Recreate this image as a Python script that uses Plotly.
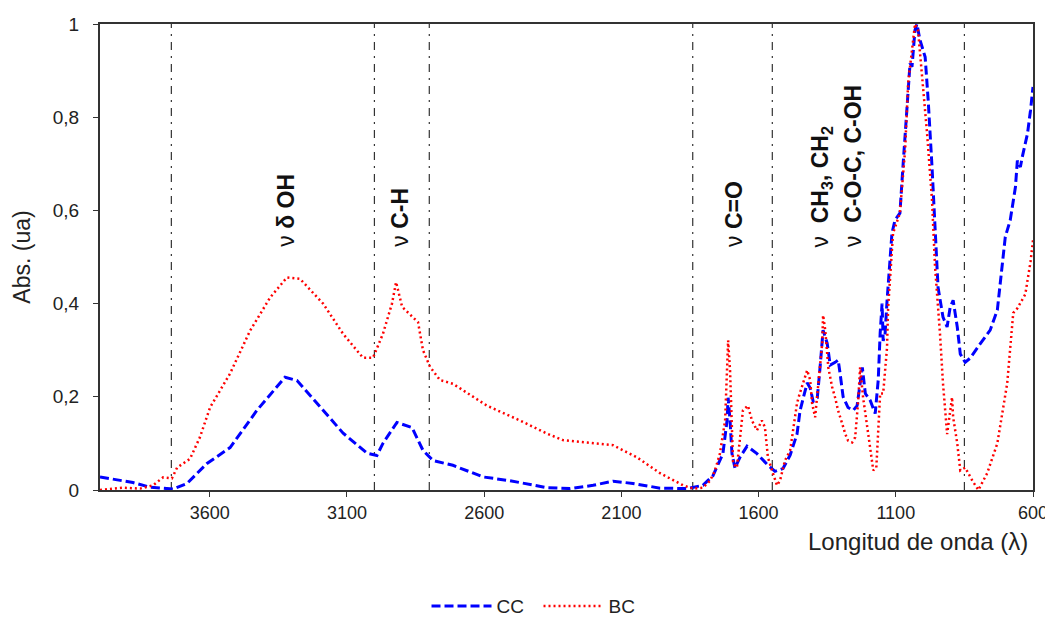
import plotly.graph_objects as go

# ---- data (wavenumber cm-1, absorbance) ----
cc_x = [4000, 3880, 3818, 3734, 3683, 3610, 3526, 3428, 3326, 3282, 3187, 3114, 3027, 2991, 2969,
        2918, 2863, 2823, 2786, 2714, 2604, 2506, 2371, 2287, 2203, 2130, 2058, 1959, 1861, 1803,
        1766, 1730, 1715, 1711, 1704, 1697, 1686, 1668, 1642, 1606, 1569, 1540, 1511, 1485, 1460,
        1449, 1423, 1412, 1401, 1386, 1376, 1365, 1350, 1339, 1321, 1310, 1303, 1292, 1274, 1255,
        1241, 1230, 1222, 1211, 1193, 1175, 1164, 1157, 1150, 1146, 1139, 1132, 1114, 1103, 1085,
        1074, 1059, 1048, 1041, 1030, 1023, 1012, 993, 982, 968, 957, 946, 928, 913, 902,
        891, 876, 865, 847, 829, 792, 756, 730, 712, 701, 683, 664, 657, 646, 639,
        620, 609, 600]
cc_y = [0.028, 0.016, 0.006, 0.002, 0.014, 0.057, 0.091, 0.171, 0.242, 0.235, 0.171, 0.122, 0.079, 0.074, 0.1,
        0.145, 0.134, 0.085, 0.063, 0.053, 0.028, 0.02, 0.005, 0.003, 0.01, 0.019, 0.014, 0.004, 0.003, 0.01,
        0.031, 0.078, 0.149, 0.198, 0.149, 0.078, 0.047, 0.07, 0.094, 0.078, 0.055, 0.04, 0.046, 0.075, 0.12,
        0.17, 0.23, 0.219, 0.19, 0.198, 0.263, 0.343, 0.315, 0.268, 0.274, 0.279, 0.25, 0.2, 0.177, 0.171,
        0.181, 0.229, 0.263, 0.207, 0.192, 0.164, 0.236, 0.336, 0.4, 0.32, 0.335, 0.405, 0.551, 0.579, 0.594,
        0.693, 0.837, 0.916, 0.908, 0.987, 1.0, 0.966, 0.929, 0.837, 0.693, 0.551, 0.435, 0.371, 0.35, 0.392,
        0.407, 0.35, 0.292, 0.274, 0.283, 0.314, 0.343, 0.386, 0.478, 0.543, 0.579, 0.65, 0.707, 0.693, 0.715,
        0.765, 0.815, 0.865]

bc_x = [4000, 3916, 3854, 3807, 3770, 3738, 3719, 3672, 3636, 3599, 3526, 3453, 3380, 3319, 3271,
        3187, 3114, 3042, 3005, 2969, 2936, 2921, 2899, 2859, 2841, 2823, 2797, 2761, 2714, 2590,
        2469, 2371, 2313, 2225, 2130, 2043, 1959, 1875, 1839, 1803, 1777, 1760, 1741, 1722, 1715,
        1711, 1704, 1697, 1693, 1679, 1668, 1657, 1639, 1624, 1606, 1588, 1577, 1566, 1551, 1533,
        1522, 1504, 1485, 1460, 1452, 1423, 1412, 1405, 1394, 1383, 1368, 1365, 1357, 1346, 1332,
        1321, 1310, 1295, 1284, 1274, 1259, 1248, 1237, 1230, 1219, 1204, 1193, 1182, 1171, 1164,
        1157, 1146, 1139, 1132, 1128, 1110, 1085, 1066, 1055, 1041, 1030, 1019, 1005, 986, 968,
        957, 939, 928, 913, 910, 895, 891, 876, 865, 847, 821, 799, 767, 730, 694,
        672, 657, 628, 609, 600]
bc_y = [0.0, 0.005, 0.003, 0.01, 0.027, 0.025, 0.048, 0.067, 0.113, 0.177, 0.25, 0.342, 0.413, 0.456, 0.453,
        0.4, 0.335, 0.284, 0.284, 0.335, 0.4, 0.446, 0.393, 0.369, 0.36, 0.3, 0.264, 0.236, 0.228, 0.181,
        0.149, 0.121, 0.107, 0.102, 0.096, 0.07, 0.036, 0.01, 0.003, 0.005, 0.02, 0.04, 0.078, 0.149, 0.256,
        0.321, 0.256, 0.149, 0.057, 0.048, 0.113, 0.171, 0.181, 0.149, 0.128, 0.149, 0.135, 0.07, 0.042, 0.01,
        0.02, 0.063, 0.085, 0.186, 0.203, 0.257, 0.236, 0.186, 0.156, 0.229, 0.315, 0.375, 0.343, 0.263, 0.221,
        0.198, 0.17, 0.142, 0.12, 0.106, 0.102, 0.113, 0.192, 0.263, 0.198, 0.135, 0.091, 0.042, 0.048, 0.121,
        0.207, 0.207, 0.263, 0.305, 0.39, 0.551, 0.594, 0.73, 0.873, 0.944, 1.0, 0.987, 0.894, 0.765, 0.622,
        0.479, 0.336, 0.229, 0.12, 0.134, 0.199, 0.156, 0.1, 0.042, 0.048, 0.02, 0.0, 0.036, 0.1, 0.229,
        0.38, 0.39, 0.42, 0.49, 0.536]

# band boundary lines
band_lines = [3740, 3000, 2800, 1840, 1550, 850]

# band labels
label_text = ["ν <b>δ OH</b>", "ν <b>C-H</b>", "ν <b>C=O</b>",
              "ν  <b>CH<sub>3</sub>, CH<sub>2</sub></b>", "ν  <b>C-O-C, C-OH</b>"]
label_x = [3322, 2910, 1690, 1369, 1256]

x_ticks = [3600, 3100, 2600, 2100, 1600, 1100, 600]
y_ticks = [0, 0.2, 0.4, 0.6, 0.8, 1]
y_tick_text = ["0", "0,2", "0,4", "0,6", "0,8", "1"]

FONT = "Liberation Sans, Arial, sans-serif"

fig = go.Figure()
fig.add_trace(go.Scatter(x=cc_x, y=cc_y, mode="lines", name="CC",
                         line=dict(color="#0000FF", width=3, dash="9px,4px")))
fig.add_trace(go.Scatter(x=bc_x, y=bc_y, mode="lines", name="BC",
                         line=dict(color="#FF0000", width=2.5, dash="2px,3px")))

for v in band_lines:
    fig.add_shape(type="line", x0=v, x1=v, y0=0, y1=1, xref="x", yref="y",
                  line=dict(color="#333333", width=1.2, dash="8px,6px,2px,6px"), layer="below")

for t, xv in zip(label_text, label_x):
    fig.add_annotation(x=xv, y=0.517, xref="x", yref="y", text=t, textangle=-90,
                       showarrow=False, xanchor="center", yanchor="bottom",
                       font=dict(family=FONT, size=23, color="#111111"))

fig.add_annotation(x=-0.084, y=0.5, xref="paper", yref="paper", text="Abs. (ua)",
                   textangle=-90, showarrow=False, xanchor="center", yanchor="middle",
                   font=dict(family=FONT, size=23, color="#222222"))
fig.add_annotation(x=0.9968, y=-0.11, xref="paper", yref="paper", text="Longitud de onda (λ)",
                   showarrow=False, xanchor="right", yanchor="middle",
                   font=dict(family=FONT, size=24, color="#222222"))

# page body adds an 8px offset, so the figure is 8px smaller than the window
fig.update_layout(
    width=1045, height=611,
    margin=dict(l=92, r=20, t=16, b=129, autoexpand=False),
    paper_bgcolor="white", plot_bgcolor="white",
    font=dict(family=FONT, size=18, color="#222222"),
    showlegend=True,
    legend=dict(orientation="h", x=0.47, y=-0.249, xanchor="center", yanchor="middle",
                font=dict(family=FONT, size=19, color="#222222"), itemwidth=60,
                entrywidth=37, entrywidthmode="pixels",
                bgcolor="rgba(0,0,0,0)"),
    xaxis=dict(range=[4000, 600], tickmode="array", tickvals=x_ticks, automargin=False,
               showgrid=False, zeroline=False, showline=True, linecolor="#333333", linewidth=2,
               mirror=True, ticks="outside", ticklen=5, tickcolor="#333333",
               tickfont=dict(family=FONT, size=18, color="#222222")),
    yaxis=dict(range=[0, 1], tickmode="array", tickvals=y_ticks, ticktext=y_tick_text, automargin=False,
               showgrid=False, zeroline=False, showline=True, linecolor="#333333", linewidth=2,
               mirror=True, ticks="outside", ticklen=5, tickcolor="#333333", ticklabelstandoff=10,
               tickfont=dict(family=FONT, size=19, color="#222222")),
)

fig.write_html("out.html")
